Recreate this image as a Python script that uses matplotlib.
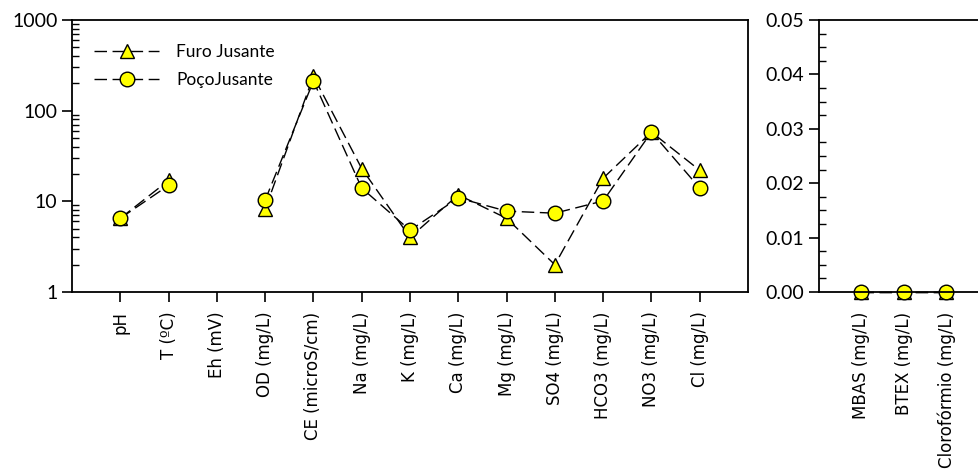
import numpy as np
import matplotlib
matplotlib.use("Agg")
from matplotlib import pyplot as plt
from matplotlib.ticker import FixedLocator, NullFormatter, MultipleLocator, FormatStrFormatter

# physico-chemical parameters (log axis)
params = ['pH', 'T (ºC)', 'Eh (mV)', 'OD (mg/L)', 'CE (microS/cm)', 'Na (mg/L)',
          'K (mg/L)', 'Ca (mg/L)', 'Mg (mg/L)', 'SO4 (mg/L)', 'HCO3 (mg/L)',
          'NO3 (mg/L)', 'Cl (mg/L)']
furo = [6.5, 17.0, np.nan, 8.2, 240, 23.0, 4.0, 11.8, 6.5, 2.0, 18.0, 58, 22.0]
poco = [6.5, 15.0, np.nan, 10.3, 212, 14.0, 4.8, 10.9, 7.8, 7.4, 10.1, 58, 14.0]

# organic parameters (linear axis)
organics = ['MBAS (mg/L)', 'BTEX (mg/L)', 'Clorofórmio (mg/L)']
furo_org = [0.0, 0.0, 0.0]
poco_org = [0.0, 0.0, 0.0]

num_font = 'Lato'
lab_font = 'DejaVu Sans'
dash = (0, (9, 4))

fig = plt.figure(figsize=(9.79, 4.75), dpi=100)
ax1 = fig.add_axes([72/979, 1-292/475, 676/979, 272/475])
ax2 = fig.add_axes([819/979, 1-292/475, 4*42.5/979, 272/475])

def draw(ax, x, a, b):
    ax.plot(x, a, linestyle=dash, color='black', lw=1, marker='^', ms=10.5,
            mfc='yellow', mec='black', mew=1, label='Furo Jusante', clip_on=False)
    ax.plot(x, b, linestyle=dash, color='black', lw=1, marker='o', ms=10.5,
            mfc='yellow', mec='black', mew=1, label='PoçoJusante', clip_on=False)

for ax in (ax1, ax2):
    for s in ax.spines.values():
        s.set_linewidth(1.3)
    ax.tick_params(axis='y', which='major', direction='out', length=7, width=1.2)
    ax.tick_params(axis='y', which='minor', direction='in', length=5, width=1)
    ax.tick_params(axis='x', which='minor', bottom=False)
ax1.tick_params(axis='x', which='major', direction='out', length=7, width=1.2, pad=7)
ax2.tick_params(axis='x', which='major', length=0, pad=14)

x1 = np.arange(1, len(params) + 1)
draw(ax1, x1, furo, poco)
ax1.set_yscale('log')
ax1.set_ylim(1, 1000)
ax1.set_xlim(0, 14)
ax1.yaxis.set_major_locator(FixedLocator([1, 10, 100, 1000]))
ax1.yaxis.set_minor_formatter(NullFormatter())
ax1.set_yticks([1, 10, 100, 1000], ['1', '10', '100', '1000'])
ax1.set_xticks(x1, params, rotation=90)

x2 = np.arange(1, len(organics) + 1)
draw(ax2, x2, furo_org, poco_org)
ax2.set_ylim(0, 0.05)
ax2.set_xlim(0, 4)
ax2.yaxis.set_major_locator(MultipleLocator(0.01))
ax2.yaxis.set_minor_locator(MultipleLocator(0.0025))
ax2.yaxis.set_major_formatter(FormatStrFormatter('%.2f'))
ax2.set_xticks(x2, organics, rotation=90)

fig.canvas.draw()
for ax in (ax1, ax2):
    for t in ax.get_yticklabels():
        t.set_fontfamily(num_font)
        t.set_fontsize(14)
    for t in ax.get_xticklabels():
        t.set_fontfamily(lab_font)
        t.set_fontsize(12)

leg = ax1.legend(loc='upper left', bbox_to_anchor=(0.01, 0.97), frameon=False,
                 handlelength=3.7, handletextpad=1.0, labelspacing=0.7,
                 prop={'family': num_font, 'size': 12.5})

fig.savefig('out.png', dpi=100)
